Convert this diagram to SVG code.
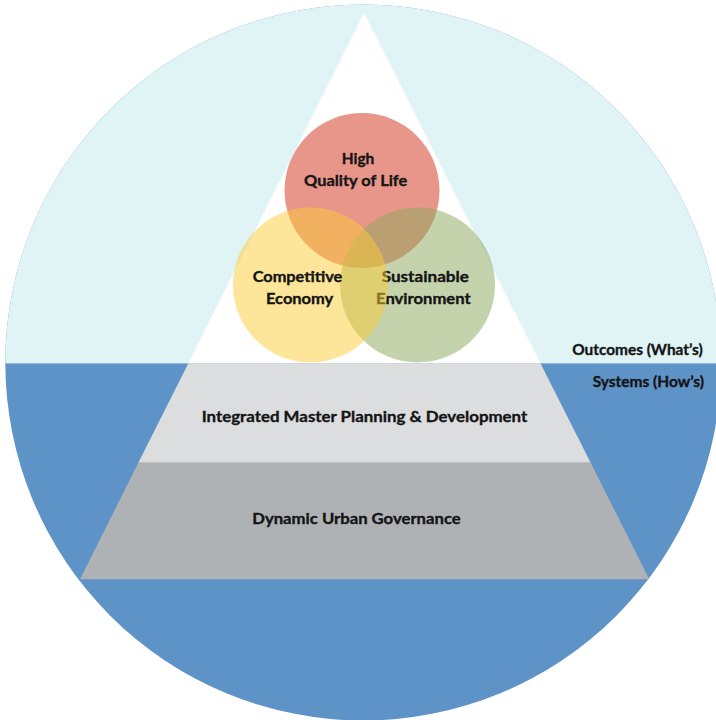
<svg xmlns="http://www.w3.org/2000/svg" width="716" height="720" viewBox="0 0 716 720">
  <defs>
    <clipPath id="disc">
      <circle cx="363.3" cy="362.5" r="358"/>
    </clipPath>
    <style>
      .lbl { font-family: Lato, "Liberation Sans", "DejaVu Sans", sans-serif; font-weight: 700; font-size: 15.8px; fill: #141414; stroke: #141414; stroke-width: 0.35px; }
      .venn { opacity: 0.5; }
    </style>
  </defs>

  <rect width="716" height="720" fill="#ffffff"/>

  <!-- background disc: outcomes above the horizon, systems below -->
  <g id="background" clip-path="url(#disc)">
    <rect x="0" y="0" width="716" height="720" fill="#5e93c7"/>
    <rect x="0" y="0" width="716" height="363.3" fill="#e0f4f6"/>
    <line x1="0" y1="363.6" x2="716" y2="363.6" stroke="#8fb4da" stroke-width="1"/>
  </g>

  <!-- pyramid -->
  <g id="apex">
    <polygon points="364,13 540.4,363.3 188.4,363.3" fill="#ffffff"/>
  </g>
  <g id="planning">
    <polygon points="188.4,363.3 540.4,363.3 590.3,462 138.7,462" fill="#dcdddf"/>
    <text class="lbl" x="201.7" y="421.7" textLength="325.6" lengthAdjust="spacingAndGlyphs">Integrated Master Planning &amp; Development</text>
  </g>
  <g id="governance">
    <polygon points="138.7,462 590.3,462 649.3,579.3 80,579.3" fill="#afb2b5"/>
    <line x1="138.7" y1="462.3" x2="590.3" y2="462.3" stroke="#c4c6c8" stroke-width="1"/>
    <text class="lbl" x="252.3" y="524.3" textLength="208.4" lengthAdjust="spacingAndGlyphs">Dynamic Urban Governance</text>
  </g>

  <!-- outcome circles -->
  <g id="quality-of-life">
    <circle class="venn" cx="362" cy="190.5" r="77.5" fill="#d32d15"/>
    <text class="lbl" x="341.7" y="164.3" textLength="32.6" lengthAdjust="spacingAndGlyphs">High</text>
    <text class="lbl" x="304" y="185.7" textLength="103.3" lengthAdjust="spacingAndGlyphs">Quality of Life</text>
  </g>
  <g id="environment">
    <circle class="venn" cx="417.5" cy="285" r="77.5" fill="#8ba75b"/>
    <text class="lbl" x="381.7" y="282.3" textLength="87.3" lengthAdjust="spacingAndGlyphs">Sustainable</text>
    <text class="lbl" x="376" y="304" textLength="94.7" lengthAdjust="spacingAndGlyphs">Environment</text>
  </g>
  <g id="economy">
    <circle class="venn" cx="310.5" cy="285" r="77.5" fill="#fbcb35"/>
    <text class="lbl" x="252.7" y="282.3" textLength="89.6" lengthAdjust="spacingAndGlyphs">Competitive</text>
    <text class="lbl" x="266" y="304" textLength="67.3" lengthAdjust="spacingAndGlyphs">Economy</text>
  </g>

  <!-- side captions -->
  <g id="outcomes-caption">
    <text class="lbl" x="572.3" y="355" textLength="130.4" lengthAdjust="spacingAndGlyphs">Outcomes (What’s)</text>
  </g>
  <g id="systems-caption">
    <text class="lbl" x="592.7" y="386.7" textLength="111.3" lengthAdjust="spacingAndGlyphs">Systems (How’s)</text>
  </g>

  <g id="connectors"/>
</svg>
